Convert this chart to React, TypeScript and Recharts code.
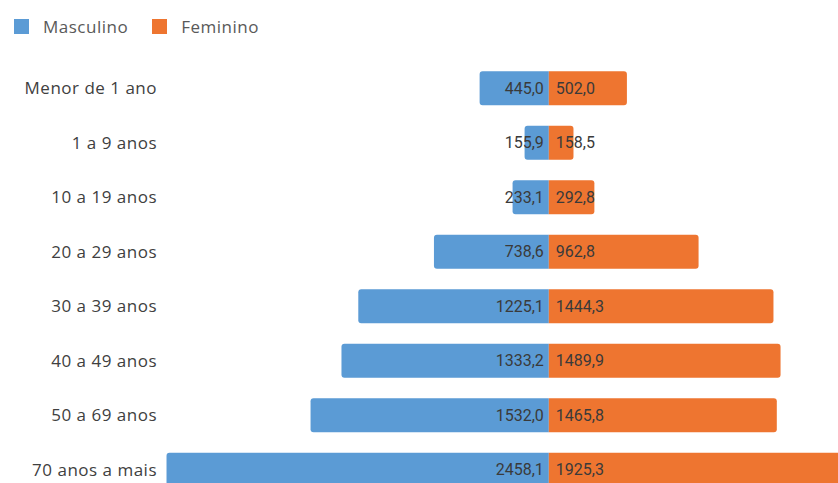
import React from "react";
import { BarChart, Bar, XAxis, YAxis, Legend, LabelList } from "recharts";

const categories = [
  "Menor de 1 ano",
  "1 a 9 anos",
  "10 a 19 anos",
  "20 a 29 anos",
  "30 a 39 anos",
  "40 a 49 anos",
  "50 a 69 anos",
  "70 anos a mais",
];
const masculino = [445.0, 155.9, 233.1, 738.6, 1225.1, 1333.2, 1532.0, 2458.1];
const feminino = [502.0, 158.5, 292.8, 962.8, 1444.3, 1489.9, 1465.8, 1925.3];

const BLUE = "#5B9BD5";
const ORANGE = "#EE7530";

const data = categories.map((c, i) => ({
  name: c,
  masculino: -masculino[i],
  feminino: feminino[i],
}));

const fmt = (v: number) => Math.abs(v).toFixed(1).replace(".", ",");

const makeLabel = (side: "left" | "right") => (props: any) => {
  const { x, y, width, height, value } = props;
  const left = Math.min(x, x + width);
  const right = Math.max(x, x + width);
  const cy = y + height / 2;
  return (
    <text
      x={side === "left" ? right - 5 : left + 7}
      y={cy}
      dy="0.36em"
      textAnchor={side === "left" ? "end" : "start"}
      fill="#3A3A3A"
      fontSize={16}
      fontFamily="Roboto, sans-serif"
    >
      {fmt(value)}
    </text>
  );
};

const LegendContent = () => (
  <div
    style={{
      display: "flex",
      alignItems: "center",
      fontFamily: "'Open Sans', sans-serif",
      fontSize: 17,
      letterSpacing: 0.5,
      color: "#595959",
      height: 40,
    }}
  >
    <span style={{ display: "inline-block", width: 15, height: 15, background: BLUE, marginLeft: 14, marginRight: 14 }} />
    <span>Masculino</span>
    <span style={{ display: "inline-block", width: 15, height: 15, background: ORANGE, marginLeft: 24, marginRight: 14 }} />
    <span>Feminino</span>
  </div>
);

export default function App() {
  return (
    <div style={{ position: "fixed", left: 0, top: 0, width: 838, height: 483, overflow: "hidden", background: "#fff" }}>
      <BarChart
        width={891}
        height={497}
        data={data}
        layout="vertical"
        stackOffset="sign"
        barCategoryGap="18.75%"
        margin={{ top: 21, right: 0, bottom: 0, left: 0 }}
      >
        <Legend
          verticalAlign="top"
          align="left"
          content={<LegendContent />}
          wrapperStyle={{ top: 6, left: 0, height: 40 }}
        />
        <XAxis type="number" domain={[-2500, 2200]} hide allowDataOverflow />
        <YAxis
          type="category"
          dataKey="name"
          width={160}
          axisLine={false}
          tickLine={false}
          tickSize={0}
          tickMargin={3}
          tick={{ fill: "#404040", fontSize: 17, letterSpacing: 0.5, fontFamily: "'Open Sans', sans-serif" }}
          interval={0}
        />
        <Bar dataKey="masculino" stackId="a" fill={BLUE} radius={[0, 3, 3, 0]} isAnimationActive={false}>
          <LabelList dataKey="masculino" content={makeLabel("left")} />
        </Bar>
        <Bar dataKey="feminino" stackId="a" fill={ORANGE} radius={[0, 3, 3, 0]} isAnimationActive={false}>
          <LabelList dataKey="feminino" content={makeLabel("right")} />
        </Bar>
      </BarChart>
    </div>
  );
}
